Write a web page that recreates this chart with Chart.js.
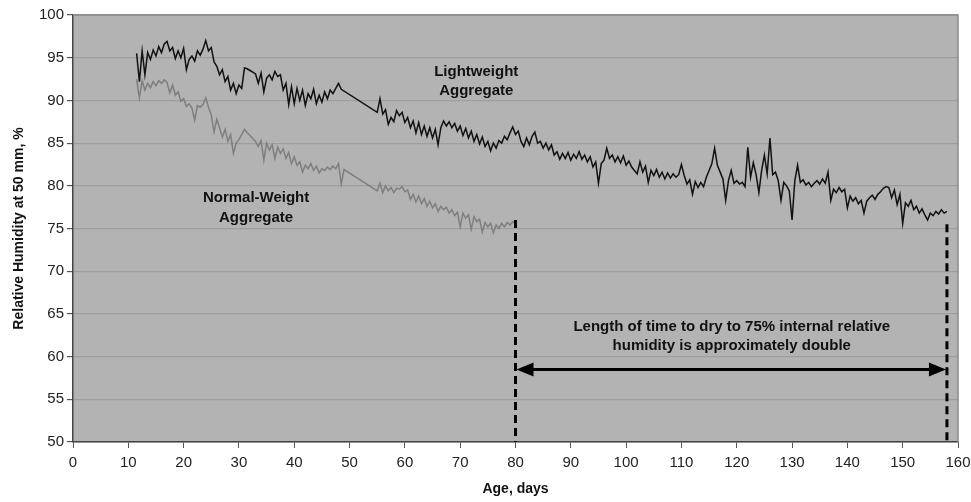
<!DOCTYPE html>
<html>
<head>
<meta charset="utf-8">
<script src="https://cdn.jsdelivr.net/npm/chart.js@4.4.1/dist/chart.umd.min.js"></script>
<style>
  html, body { margin: 0; padding: 0; background: #fff; }
  #wrap { width: 971px; height: 502px; }
</style>
</head>
<body>
<div id="wrap"><canvas id="myChart" width="971" height="502"></canvas></div>
<script>
// readings every half day, starting at day 11.5 (null = no reading)
const startDay = 11.5;
const stepDay = 0.5;

const lightweight = [
    95.5, 92.2, 95.8, 93.0, 95.6, 94.8, 95.9, 95.2, 96.3, 95.6,
    96.6, 96.9, 95.8, 96.2, 94.9, 95.8, 95.0, 96.1, 93.6, 94.8,
    95.2, 94.6, 95.8, 95.3, 96.0, 97.0, 95.8, 96.2, 94.5, 94.0,
    93.0, 93.6, 92.2, 92.8, 91.2, 92.0, 90.8, 91.8, 91.4, 93.8,
    93.7, 93.5, 93.3, 93.1, 92.0, 93.2, 91.0, 92.6, 93.0, 92.4,
    93.4, 92.8, 93.0, 91.2, 92.0, 89.5, 91.6, 89.6, 91.4, 90.0,
    91.2, 89.4, 90.8, 90.2, 91.3, 89.6, 90.6, 89.8, 91.0, 90.2,
    91.2, 90.8, 91.4, 92.0, 91.3, null, null, null, null, null,
    null, null, null, null, null, null, null, 88.6, 90.2, 88.4,
    88.9, 87.2, 88.0, 87.5, 88.8, 88.2, 88.6, 87.4, 88.0, 86.8,
    87.6, 86.2, 87.4, 86.0, 87.0, 85.8, 86.8, 85.6, 86.6, 84.8,
    86.8, 87.6, 87.0, 87.5, 86.8, 87.3, 86.4, 87.0, 85.9, 86.7,
    85.6, 86.4, 85.2, 86.0, 84.9, 85.7, 84.6, 85.2, 84.1, 85.0,
    84.4, 85.3, 85.0, 85.8, 85.4, 86.2, 86.9, 86.0, 86.4, 85.2,
    84.6, 85.6, 84.8, 85.8, 86.3, 85.0, 85.2, 84.4, 85.0, 84.2,
    84.8, 83.6, 84.0, 83.1, 83.8, 83.2, 83.9, 83.0, 83.7, 83.2,
    84.0, 83.1, 83.6, 82.8, 83.4, 82.2, 82.8, 80.3, 82.6, 83.0,
    84.4, 83.2, 83.6, 82.8, 83.4, 82.7, 83.5, 82.4, 82.9, 82.2,
    81.8, 81.4, 82.8, 81.6, 82.3, 80.4, 81.8, 81.2, 81.9, 81.0,
    81.6, 80.8, 81.5, 80.9, 81.4, 81.0, 81.3, 82.5, 81.2, 80.2,
    80.7, 79.0, 80.5, 79.8, 80.4, 79.9, 81.0, 81.8, 82.6, 84.4,
    82.4, 81.6, 80.8, 78.3, 80.6, 81.8, 80.3, 80.6, 80.2, 80.4,
    79.9, 84.5, 81.0, 82.7, 81.3, 79.2, 81.8, 83.6, 81.4, 85.6,
    81.3, 81.6, 80.6, 78.3, 80.4, 80.0, 79.4, 76.0, 80.6, 82.4,
    80.4, 80.7, 80.1, 80.4, 79.9, 80.3, 80.6, 80.2, 80.8, 80.3,
    81.6, 78.3, 79.6, 79.2, 79.8, 79.3, 79.6, 77.4, 78.8, 78.2,
    78.6, 77.9, 78.3, 76.8, 78.2, 78.6, 78.9, 78.4, 79.0, 79.3,
    79.7, 79.9, 79.8, 78.6, 79.5, 77.8, 79.0, 75.6, 78.0, 77.6,
    78.3, 77.2, 77.6, 76.8, 77.3, 76.6, 76.0, 76.8, 76.5, 77.0,
    76.7, 77.2, 76.8, 77.0
];

const normalWeight = [
    92.5, 90.3, 92.3, 91.2, 92.0, 91.5, 92.2, 91.7, 92.3, 92.0,
    92.4, 92.1, 90.9, 91.8, 90.6, 91.0, 89.9, 90.2, 89.3, 89.6,
    89.1, 87.7, 89.4, 89.2, 89.5, 90.3, 89.2, 88.3, 86.3, 87.8,
    86.8, 85.7, 86.6, 85.2, 86.0, 83.8, 85.0, 85.4, 86.0, 86.6,
    86.2, 85.9, 85.5, 85.2, 84.6, 85.3, 83.0, 85.0, 84.2, 84.8,
    83.2, 84.5, 83.8, 84.3, 83.2, 83.9, 82.6, 83.4, 82.4, 82.8,
    81.6, 82.4, 82.0, 82.6, 81.8, 82.3, 81.5, 82.0, 81.8, 82.2,
    81.9, 82.3, 82.0, 82.6, 80.2, 81.9, null, null, null, null,
    null, null, null, null, null, null, null, 79.4, 80.3, 79.2,
    80.0, 79.4, 79.8, 79.2, 79.7, 79.6, 79.9, 79.3, 79.5, 78.4,
    79.0, 78.1, 78.8, 77.9, 78.5, 77.6, 78.2, 77.4, 77.9, 77.0,
    77.6, 77.2, 77.5, 76.8, 77.2, 76.5, 76.9, 75.2, 76.8, 76.2,
    76.6, 74.9, 76.4, 75.8, 76.1, 74.6, 75.7, 75.2, 75.6, 74.5,
    75.4, 75.0, 75.6, 75.2, 75.7, 75.4, 75.8, 75.6
];

// annotation values
const dryDays = [80, 158];
const dryTops = [76, 75.5];
const arrowLevel = 58.5;

function toPoints(values) {
    return values.map(function (v, i) {
        return { x: startDay + i * stepDay, y: v };
    });
}

const plotBackground = {
    id: 'plotBackground',
    beforeDraw(chart) {
        const a = chart.chartArea;
        const ctx = chart.ctx;
        ctx.save();
        ctx.fillStyle = '#b3b3b3';
        ctx.fillRect(a.left, a.top, a.right - a.left, a.bottom - a.top);
        ctx.restore();
    },
    afterDraw(chart) {
        const a = chart.chartArea;
        const ctx = chart.ctx;
        ctx.save();
        ctx.strokeStyle = '#8a8a8a';
        ctx.lineWidth = 1.5;
        ctx.beginPath();
        ctx.moveTo(a.left, a.top);
        ctx.lineTo(a.right, a.top);
        ctx.lineTo(a.right, a.bottom);
        ctx.stroke();
        ctx.restore();
    }
};

const notes = {
    id: 'notes',
    afterDatasetsDraw(chart) {
        const xs = chart.scales.x;
        const ys = chart.scales.y;
        const ctx = chart.ctx;
        ctx.save();

        // arrow heads
        const yA = ys.getPixelForValue(arrowLevel);
        const xL = xs.getPixelForValue(dryDays[0]);
        const xR = xs.getPixelForValue(dryDays[1]);
        ctx.fillStyle = '#000';
        ctx.beginPath();
        ctx.moveTo(xL + 1, yA);
        ctx.lineTo(xL + 18, yA - 7);
        ctx.lineTo(xL + 18, yA + 7);
        ctx.closePath();
        ctx.fill();
        ctx.beginPath();
        ctx.moveTo(xR - 1, yA);
        ctx.lineTo(xR - 18, yA - 7);
        ctx.lineTo(xR - 18, yA + 7);
        ctx.closePath();
        ctx.fill();

        // labels
        ctx.fillStyle = '#111';
        ctx.font = 'bold 15px "Liberation Sans", Arial, sans-serif';
        ctx.textAlign = 'center';
        ctx.textBaseline = 'middle';
        const txt = [
            ['Lightweight', 72.9, 93.4],
            ['Aggregate', 72.9, 91.1],
            ['Normal-Weight', 33.1, 78.6],
            ['Aggregate', 33.1, 76.3],
            ['Length of time to dry to 75% internal relative', 119.1, 63.5],
            ['humidity is approximately double', 119.1, 61.2]
        ];
        txt.forEach(function (t) {
            ctx.fillText(t[0], xs.getPixelForValue(t[1]), ys.getPixelForValue(t[2]));
        });
        ctx.restore();
    }
};

const data = {
    datasets: [{
        label: 'Lightweight Aggregate',
        data: toPoints(lightweight),
        borderColor: '#111111',
        borderWidth: 1.5,
        pointRadius: 0,
        spanGaps: true,
        order: 1
    },
    {
        label: 'Normal-Weight Aggregate',
        data: toPoints(normalWeight),
        borderColor: '#7f7f7f',
        borderWidth: 1.5,
        pointRadius: 0,
        spanGaps: true,
        order: 2
    },
    {
        label: 'dry1',
        data: [{ x: dryDays[0], y: dryTops[0] }, { x: dryDays[0], y: 50 }],
        borderColor: '#000',
        borderWidth: 3,
        borderDash: [8, 5],
        pointRadius: 0
    },
    {
        label: 'dry2',
        data: [{ x: dryDays[1], y: dryTops[1] }, { x: dryDays[1], y: 50 }],
        borderColor: '#000',
        borderWidth: 3,
        borderDash: [8, 5],
        pointRadius: 0
    },
    {
        label: 'arrow',
        data: [{ x: dryDays[0] + 2, y: arrowLevel }, { x: dryDays[1] - 2, y: arrowLevel }],
        borderColor: '#000',
        borderWidth: 3,
        pointRadius: 0
    }]
};

const tickFont = { family: '"Liberation Sans", Arial, sans-serif', size: 15 };
const titleFont = { family: '"Liberation Sans", Arial, sans-serif', size: 14, weight: 'bold' };

const config = {
    type: 'line',
    data: data,
    options: {
        responsive: false,
        animation: false,
        layout: { padding: { top: 15, right: 1, left: 11, bottom: 0 } },
        plugins: {
            legend: { display: false },
            tooltip: { enabled: false }
        },
        scales: {
            x: {
                type: 'linear',
                min: 0,
                max: 160,
                ticks: { stepSize: 10, color: '#222', font: tickFont, padding: 6 },
                grid: { drawOnChartArea: false, tickLength: 6, tickColor: '#555' },
                border: { color: '#444', width: 1.5 },
                title: { display: true, text: 'Age, days', color: '#111', font: titleFont, padding: { top: 8 } },
                afterFit: function (s) {
                    s.height = 60;
                    s.paddingRight = 13;
                }
            },
            y: {
                min: 50,
                max: 100,
                ticks: { stepSize: 5, color: '#222', font: tickFont, padding: 3 },
                grid: { color: '#9e9e9e', lineWidth: 1.2, tickLength: 6, tickColor: '#555' },
                border: { color: '#444', width: 1.5 },
                title: { display: true, text: 'Relative Humidity at 50 mm, %', color: '#111', font: titleFont, padding: 0 },
                afterFit: function (s) { s.width = 62; }
            }
        }
    },
    plugins: [plotBackground, notes]
};

var myChart = new Chart(
    document.getElementById('myChart'),
    config
);
</script>
</body>
</html>
